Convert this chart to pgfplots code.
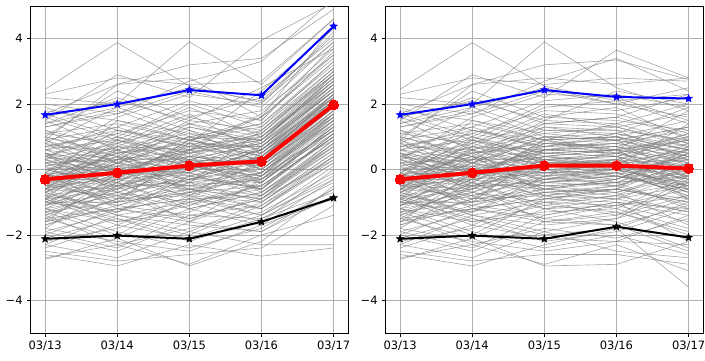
\documentclass[border=0pt]{standalone}
\usepackage{pgfplots}
\usepackage{pgfplotstable}
\pgfplotsset{compat=1.18}
\usepackage{fontspec}
\setmainfont{DejaVu Sans}
\pgfdeclareplotmark{fstar}{%
  \pgfpathmoveto{\pgfpointpolar{90}{\pgfplotmarksize}}%
  \pgfpathlineto{\pgfpointpolar{126}{0.42\pgfplotmarksize}}%
  \pgfpathlineto{\pgfpointpolar{162}{\pgfplotmarksize}}%
  \pgfpathlineto{\pgfpointpolar{198}{0.42\pgfplotmarksize}}%
  \pgfpathlineto{\pgfpointpolar{234}{\pgfplotmarksize}}%
  \pgfpathlineto{\pgfpointpolar{270}{0.42\pgfplotmarksize}}%
  \pgfpathlineto{\pgfpointpolar{306}{\pgfplotmarksize}}%
  \pgfpathlineto{\pgfpointpolar{342}{0.42\pgfplotmarksize}}%
  \pgfpathlineto{\pgfpointpolar{18}{\pgfplotmarksize}}%
  \pgfpathlineto{\pgfpointpolar{54}{0.42\pgfplotmarksize}}%
  \pgfpathclose
  \pgfusepathqfillstroke}
\pgfplotstableread{
a b c dL eL dR eR
2.45 3.88 2.55 2.05 3.9 2.1 2.3
2.2 2.0 3.9 2.6 4.6 2.5 1.8
-2.75 -2.1 -2.95 -2.2 -0.5 -2.9 -2.2
-2.6 -2.95 -2.3 -2.65 -2.4 -1.8 -3.6
1.5 2.9 2.2 3.95 5.1 3.65 2.8
0.9 2.6 3.2 3.4 4.9 3.35 2.75
-0.3 -0.5 0.1 0.2 2.1 0.3 -0.2
0.4 0.1 -0.6 -0.1 1.5 -0.3 0.6
-1.2 -0.8 -1.5 -0.9 0.8 -1.1 -1.6
-0.8 0.3 0.6 0.9 2.7 0.7 0.2
1.1 1.4 0.9 1.3 3.3 1.0 1.5
-1.9 -1.3 -0.7 -1.2 0.2 -0.9 -0.5
0.0 -0.4 -1.1 -0.5 1.0 -0.8 -1.3
-0.5 0.6 1.3 0.8 2.9 1.2 0.9
-1.5 -2.1 -1.2 -1.7 -0.3 -1.6 -2.4
0.7 1.1 1.8 1.5 3.6 1.7 1.1
-0.2 -1.0 -0.3 0.4 1.9 0.1 -0.7
1.6 0.9 0.4 1.0 2.6 0.6 0.3
-1.0 -0.2 0.8 0.3 2.3 0.9 1.3
-0.6 -1.4 -1.9 -1.0 0.5 -1.5 -0.9
0.3 0.8 0.2 -0.4 1.2 -0.2 0.8
-1.7 -0.9 -0.1 0.6 2.2 0.0 -0.4
1.3 1.7 2.4 1.9 3.9 2.0 1.6
-0.9 -1.7 -0.8 -1.4 -0.2 -1.2 -1.8
0.1 0.5 1.0 0.0 1.7 0.5 0.1
-2.1 -1.5 -2.2 -1.5 -0.7 -1.9 -1.2
0.6 -0.1 -0.4 0.7 2.4 -0.1 0.4
-0.4 0.2 0.5 -0.2 1.6 0.4 -0.9
1.0 0.4 1.5 1.2 3.1 1.4 2.0
-1.3 -0.6 0.2 -0.6 1.1 0.2 -0.3
-0.1 1.2 0.7 1.6 3.4 0.8 0.5
-1.6 -1.2 -1.6 -0.3 0.9 -1.3 -2.0
0.5 -0.7 0.0 0.5 2.0 -0.4 -0.1
-0.7 0.0 -0.9 -0.8 0.6 -0.6 0.2
1.8 1.5 1.1 0.9 2.8 1.3 0.7
-0.3 -1.1 -1.4 -1.1 0.4 -1.0 -1.4
-2.2 -1.8 -1.0 -1.6 0.0 -1.4 -0.8
0.2 0.7 1.6 1.1 3.0 1.5 1.2
-1.1 -0.3 -0.5 0.1 1.8 -0.7 0.0
0.8 1.9 1.2 0.6 2.5 1.1 1.9
-0.5 -0.9 0.4 -0.7 0.9 0.6 -0.6
-1.4 -2.3 -1.8 -1.3 -0.1 -2.1 -1.5
1.2 0.2 -0.2 0.4 2.0 0.3 1.0
-0.2 0.4 -0.7 0.2 1.9 -0.5 -1.1
0.4 -0.3 0.9 1.4 3.2 1.0 0.6
-0.8 -1.6 -1.3 -0.4 1.3 -1.2 -0.2
-1.8 -0.5 0.3 -0.1 1.4 0.4 0.9
0.9 1.3 0.6 1.7 3.7 0.9 -0.3
-0.6 0.9 1.9 1.0 2.7 2.1 1.4
-1.2 -1.9 -2.4 -1.8 -0.6 -2.0 -2.6
0.0 0.1 -0.1 0.6 2.2 0.2 0.3
-0.3 -0.7 -1.0 -0.5 1.0 -0.8 0.1
1.4 2.2 1.4 1.8 3.5 1.6 1.0
-1.0 -0.1 0.7 0.3 2.3 1.0 0.4
-2.0 -1.2 -1.5 -0.9 0.3 -1.7 -1.1
0.6 0.3 0.3 -0.3 1.3 0.1 -0.6
-0.7 -1.3 -0.2 -0.6 1.0 0.0 -0.9
1.7 1.0 2.0 1.3 3.1 1.8 2.2
-0.4 0.5 -0.4 1.2 2.9 -0.2 -0.7
-1.5 -0.4 -0.6 -1.2 0.4 -0.3 0.5
0.2 -0.6 0.8 0.7 2.6 0.7 0.0
-0.9 0.7 0.1 -0.2 1.5 0.5 1.1
0.3 1.6 2.3 2.0 4.2 2.2 1.5
-1.3 -2.0 -0.9 -1.4 0.1 -0.7 -1.7
-0.1 -0.2 0.3 0.8 2.4 0.0 -0.5
0.7 0.6 -0.8 -0.1 1.7 -0.6 0.7
-2.3 -1.4 -1.7 -1.9 -0.8 -1.5 -0.4
1.1 0.8 1.7 0.5 2.1 1.3 1.7
-0.6 -0.8 -0.3 0.0 1.6 -0.4 -1.2
-1.1 0.1 1.0 0.9 2.8 1.1 0.6
0.5 -0.4 -1.2 -0.7 0.7 -1.1 -0.8
-0.2 1.0 0.5 1.1 3.0 0.6 1.8
-1.7 -1.1 -0.4 -1.0 0.5 -0.5 0.2
0.0 0.3 1.2 0.2 2.0 1.2 0.3
1.5 0.6 0.0 0.4 1.9 -0.2 -0.6
-0.8 -0.5 -1.6 -0.8 0.8 -1.4 -0.3
-0.3 1.5 0.9 1.6 3.5 1.4 0.8
-1.9 -2.4 -1.4 -1.5 -0.4 -1.0 -2.2
0.4 0.0 0.6 -0.4 1.2 0.8 1.2
-0.5 -0.3 -0.8 0.5 2.3 -0.9 -0.1
1.0 2.4 1.6 2.2 4.0 1.9 0.9
-1.4 -0.7 0.1 -0.3 1.1 0.3 -0.5
0.8 -0.2 0.4 0.1 1.8 0.1 1.4
-0.9 -1.5 -2.0 -1.1 0.2 -1.8 -1.0
-0.4 0.8 1.4 0.7 2.5 1.6 2.3
0.1 -0.9 -0.6 -0.9 0.6 -0.7 -0.2
-1.6 -0.1 -0.2 0.2 1.6 -0.1 -0.8
1.3 1.8 1.0 1.4 3.3 0.9 0.4
-1.0 -1.0 0.6 0.0 1.5 0.6 -0.4
-0.2 0.0 -0.1 -0.6 1.4 -0.3 0.4
0.6 1.3 2.1 1.5 3.8 2.3 1.9
-1.2 -1.6 -1.1 -0.2 1.2 -1.3 -1.9
-0.7 0.4 0.2 0.6 2.1 0.2 -0.3
0.3 -0.5 -0.5 -0.8 0.7 -0.4 0.5
-2.4 -1.7 -2.1 -1.4 -0.3 -2.2 -1.4
0.9 0.2 1.3 0.9 2.7 1.0 0.1
-0.1 -1.2 -0.9 0.3 1.7 -0.6 -1.0
1.9 1.2 0.8 2.4 4.3 0.7 1.3
-0.6 0.2 -0.3 -0.4 1.3 0.0 0.6
-1.1 -0.4 0.9 0.4 2.2 0.4 -0.2
2.3 2.8 2.6 2.7 4.6 2.8 2.7
-2.5 -2.8 -2.6 -2.4 -1.1 -2.6 -2.9
1.7 2.6 2.8 1.6 4.4 2.6 2.8
-2.7 -2.3 -2.9 -2.0 -1.4 -2.3 -3.1
2.0 1.7 2.7 3.3 5.2 3.4 2.4
-2.3 -2.7 -1.9 -2.3 -2.3 -2.5 -2.7
1.6 2.1 1.5 2.5 3.7 2.4 2.0
-1.8 -2.2 -2.5 -1.7 -0.9 -2.2 -2.3
1.4 1.9 2.5 2.1 4.1 2.0 2.5
-2.0 -2.5 -1.6 -1.9 -0.6 -1.7 -2.5
-0.5 0.1 0.4 0.3 2.0 0.2 -0.1
0.2 -0.2 0.1 -0.2 1.7 0.0 0.3
-0.9 -0.6 -0.3 0.1 1.9 -0.2 -0.5
0.6 0.9 0.5 0.8 2.6 0.6 0.9
-0.2 -0.4 0.6 0.5 2.3 0.5 0.0
-1.3 -1.0 -0.7 -0.5 1.0 -0.6 -0.9
0.1 0.6 1.1 0.4 2.1 0.9 0.5
-0.6 -0.2 -0.5 -0.3 1.4 -0.4 -0.2
1.0 0.5 0.7 1.0 2.8 0.8 0.3
-0.4 0.3 0.0 0.7 2.4 0.1 0.7
-1.0 -1.3 -0.4 -0.1 1.5 -0.2 -0.6
0.4 1.0 0.3 0.2 2.0 0.4 -0.1
-0.1 -0.8 -0.2 -0.6 1.1 -0.5 0.2
-0.7 0.2 0.9 0.5 2.2 0.6 1.0
0.5 0.0 -0.3 0.3 1.9 -0.1 -0.4
-1.4 -0.5 0.0 -0.4 1.3 0.1 -0.3
0.0 0.7 0.6 1.2 3.0 0.7 0.4
-0.3 -0.3 0.2 -0.1 1.6 0.3 0.8
0.8 0.4 -0.1 0.6 2.3 0.0 -0.5
-0.8 -1.1 -0.6 -0.9 0.7 -0.8 -0.4
-0.2 0.5 0.8 0.0 1.8 0.6 0.2
0.3 -0.1 0.5 0.9 2.7 0.4 1.1
-1.1 -0.7 -1.2 -0.7 0.8 -0.9 -1.3
0.7 1.2 0.9 0.4 2.2 1.0 0.6
-0.5 -0.6 0.3 0.2 1.9 0.2 -0.7
-1.6 -0.9 -0.8 -1.0 0.4 -0.5 0.0
0.2 0.3 1.4 1.0 2.9 1.3 0.8
-0.4 -1.0 -0.7 -0.2 1.2 -0.6 -1.0
1.2 0.7 0.3 0.8 2.5 0.5 0.9
-0.9 0.0 0.4 0.1 1.7 0.3 0.1
0.0 -0.5 -0.4 -0.5 1.0 -0.3 0.5
-0.6 0.6 0.1 0.9 2.6 0.1 -0.2
0.5 0.2 1.0 0.6 2.4 0.9 1.3
-1.2 -0.3 -0.1 -0.8 0.9 -0.1 -0.8
-0.1 0.9 0.2 0.3 2.1 0.2 0.6
-0.7 -1.4 -1.0 -0.6 1.1 -1.1 -0.6
0.9 -0.1 0.6 1.1 2.9 0.5 0.0
-0.3 0.4 -0.6 -0.3 1.5 -0.4 0.3
-1.5 -1.2 -0.9 -1.2 0.3 -1.0 -1.2
0.4 1.1 0.7 0.7 2.4 1.1 0.7
}\raw
\pgfplotstabletranspose[columns={a,b,c,dL,eL}]\datL\raw
\pgfplotstabletranspose[columns={a,b,c,dR,eR}]\datR\raw
\pgfplotstableread{
x max mean min
0 1.67 -0.30 -2.12
1 2.00 -0.10 -2.02
2 2.43 0.12 -2.12
3 2.27 0.25 -1.60
4 4.38 1.98 -0.87
}\statL
\pgfplotstableread{
x max mean min
0 1.67 -0.30 -2.12
1 2.00 -0.10 -2.02
2 2.43 0.12 -2.12
3 2.22 0.12 -1.75
4 2.17 0.03 -2.08
}\statR
\pgfplotsset{
  panel/.style={
    scale only axis, width=317.3pt, height=327pt,
    xmin=-0.2, xmax=4.2, ymin=-5, ymax=5,
    xtick={0,1,2,3,4},
    xticklabels={03/13,03/14,03/15,03/16,03/17},
    ytick={-4,-2,0,2,4},
    yticklabels={−4,−2,0,2,4},
    tick pos=left, tick align=outside,
    major tick length=3.5pt,
    every tick/.style={black, line width=0.8pt},
    axis line style={black, line width=0.8pt},
    grid=major,
    major grid style={color=black!31, line width=0.8pt},
    ticklabel style={font=\fontsize{11.5}{13}\selectfont},
    xticklabel style={yshift=-1pt},
    yticklabel style={xshift=-1pt},
    clip=true,
  },
  gline/.style={color=gray, line width=0.6pt, opacity=0.7, forget plot},
}
\begin{document}
\begin{tikzpicture}
\begin{axis}[panel, at={(0,0)}, anchor=south west]
\pgfplotsinvokeforeach{1,...,150}{\addplot[gline] table[x expr=\coordindex, y index=#1]{\datL};}
\addplot[blue, line width=2pt, mark=fstar, mark size=4pt, mark options={line width=0.5pt}] table[x=x, y=max]{\statL};
\addplot[red, line width=4pt, mark=*, mark size=5pt, mark options={line width=0pt}] table[x=x, y=mean]{\statL};
\addplot[black, line width=2pt, mark=fstar, mark size=4pt, mark options={line width=0.5pt}] table[x=x, y=min]{\statL};
\end{axis}
\begin{axis}[panel, at={(355pt,0)}, anchor=south west]
\pgfplotsinvokeforeach{1,...,150}{\addplot[gline] table[x expr=\coordindex, y index=#1]{\datR};}
\addplot[blue, line width=2pt, mark=fstar, mark size=4pt, mark options={line width=0.5pt}] table[x=x, y=max]{\statR};
\addplot[red, line width=4pt, mark=*, mark size=5pt, mark options={line width=0pt}] table[x=x, y=mean]{\statR};
\addplot[black, line width=2pt, mark=fstar, mark size=4pt, mark options={line width=0.5pt}] table[x=x, y=min]{\statR};
\end{axis}
\pgfresetboundingbox
\useasboundingbox (-30.7pt,-27pt) rectangle (674.3pt,333pt);
\end{tikzpicture}
\end{document}
